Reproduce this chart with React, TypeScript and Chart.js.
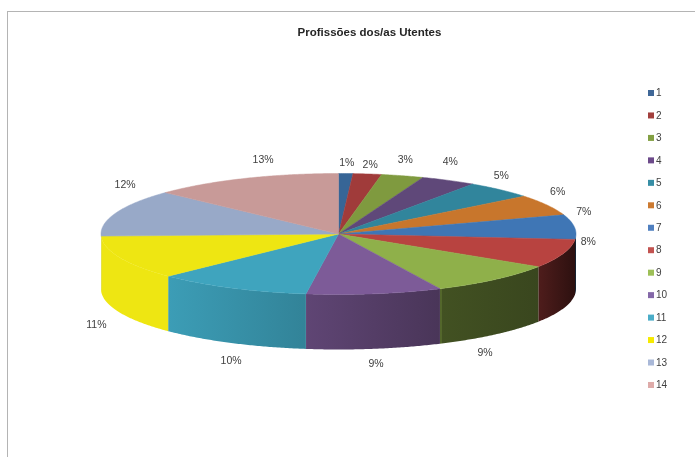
import React, { useEffect, useRef } from "react";
import { ArcElement, Chart, DoughnutController, registerables } from "chart.js";

const categories = ["1", "2", "3", "4", "5", "6", "7", "8", "9", "10", "11", "12", "13", "14"];
const shares = [1, 2, 3, 4, 5, 6, 7, 8, 9, 9, 10, 11, 12, 13];
const sliceColors = [
  "#376596", "#A03B3A", "#7F9A3F", "#5F4879", "#31859C", "#C8762C", "#3F76B5",
  "#B84340", "#8FB04A", "#7D5B98", "#3FA4BE", "#EEE612", "#98A9C8", "#C89A98",
];
const legendColors = [
  "#3F6797", "#A23F3D", "#83A044", "#6C4A8A", "#378EA5", "#CC7A31", "#5080C0",
  "#C25350", "#9DBF57", "#8468A8", "#4BADC8", "#F6EA00", "#A9B8D8", "#DEABA9",
];
const chartTitle = "Profissões dos/as Utentes";

// Offsets of the percentage labels from their anchor on the pie's rim.
const labelNudges: [number, number][] = [
  [1, -10], [2.8, -8.5], [2.7, -15.5], [1.6, -18.2], [1.1, -13.8], [10.6, -12.5], [9.4, -15],
  [25, -11.5], [-10.6, 18], [1, 14.5], [-0.5, 17.3], [-23.6, 11], [8.6, -27], [17.7, -18.5],
];

const FONT = '"Liberation Sans", Arial, sans-serif';
const STRETCH_X = 237.5 / 150;
const STRETCH_Y = 60.5 / 150;
const WALL_DEPTH = 55;
const SKEW_DEG = 3.5;
const TWIST_DEG = 1.5;
const DEG = Math.PI / 180;
// Lighting along the rim wall, left to right: [position, brightness].
const WALL_LIGHT: [number, number][] = [
  [0, 1], [0.14, 1], [0.141, 0.96], [0.433, 0.8], [0.433, 0.76], [0.718, 0.58], [0.718, 0.46], [0.925, 0.4],
  [0.925, 0.42], [1, 0.24],
];

// Clockwise angle from 12 o'clock, bent slightly to fake the camera perspective.
function bend(phi: number) {
  return phi - SKEW_DEG * DEG * (1 - Math.cos(phi)) - TWIST_DEG * DEG * Math.sin(phi);
}

function rimPoint(x: number, y: number, r: number, bent: number) {
  return {
    x: x + r * STRETCH_X * Math.sin(bent),
    y: y - r * STRETCH_Y * Math.cos(bent),
  };
}

function shade(hex: string, k: number) {
  const n = parseInt(hex.slice(1), 16);
  const c = [(n >> 16) & 255, (n >> 8) & 255, n & 255].map((v) => Math.round(v * k));
  return `rgb(${c[0]},${c[1]},${c[2]})`;
}

class Pie3DArc extends ArcElement {
  static id = "pie3dArc";

  draw(ctx: CanvasRenderingContext2D) {
    const { x, y, outerRadius, startAngle, endAngle } = (this as any).getProps([
      "x", "y", "outerRadius", "startAngle", "endAngle",
    ]);
    const color: string = (this as any).options.backgroundColor;
    const a = bend(startAngle + Math.PI / 2);
    const b = bend(endAngle + Math.PI / 2);
    const steps = Math.max(2, Math.ceil((b - a) / (0.5 * DEG)));

    // Front-facing part of the rim wall.
    const wa = Math.max(a, Math.PI / 2);
    const wb = Math.min(b, Math.PI * 1.5);
    if (wb > wa) {
      const left = x - outerRadius * STRETCH_X;
      const right = x + outerRadius * STRETCH_X;
      const grad = ctx.createLinearGradient(left, 0, right, 0);
      WALL_LIGHT.forEach(([pos, k]) => grad.addColorStop(pos, shade(color, k)));
      ctx.beginPath();
      for (let i = 0; i <= steps; i++) {
        const p = rimPoint(x, y, outerRadius, wa + ((wb - wa) * i) / steps);
        if (i === 0) ctx.moveTo(p.x, p.y);
        else ctx.lineTo(p.x, p.y);
      }
      for (let i = steps; i >= 0; i--) {
        const p = rimPoint(x, y, outerRadius, wa + ((wb - wa) * i) / steps);
        ctx.lineTo(p.x, p.y + WALL_DEPTH);
      }
      ctx.closePath();
      ctx.fillStyle = grad;
      ctx.fill();
    }

    // Top face of the slice.
    ctx.beginPath();
    ctx.moveTo(x, y);
    for (let i = 0; i <= steps; i++) {
      const p = rimPoint(x, y, outerRadius, a + ((b - a) * i) / steps);
      ctx.lineTo(p.x, p.y);
    }
    ctx.closePath();
    ctx.fillStyle = color;
    ctx.fill();
    ctx.strokeStyle = color;
    ctx.lineWidth = 0.5;
    ctx.stroke();
  }
}

class Pie3DController extends DoughnutController {
  static id = "pie3d";
  static defaults = { ...DoughnutController.defaults, dataElementType: "pie3dArc" };
}

Chart.register(...registerables, Pie3DArc, Pie3DController);

const decorations = {
  id: "decorations",
  afterDraw(chart: any) {
    const ctx: CanvasRenderingContext2D = chart.ctx;
    ctx.save();

    // Frame: only its top and left edges fall inside the canvas.
    ctx.fillStyle = "#b4b4b4";
    ctx.fillRect(7, 11, chart.width - 7, 1);
    ctx.fillRect(7, 11, 1, chart.height - 11);

    ctx.textBaseline = "middle";
    ctx.textAlign = "center";
    ctx.fillStyle = "#262626";
    ctx.font = `bold 11.5px ${FONT}`;
    ctx.fillText(chartTitle, 369.5, 32.5);

    // Percentage labels around the pie.
    ctx.font = `10.5px ${FONT}`;
    ctx.fillStyle = "#404040";
    const arcs = chart.getDatasetMeta(0).data;
    arcs.forEach((arc: any, i: number) => {
      const mid = bend((arc.startAngle + arc.endAngle) / 2 + Math.PI / 2);
      const p = rimPoint(arc.x, arc.y, arc.outerRadius, mid);
      const onWall = mid > Math.PI * 0.7 && mid < Math.PI * 1.45;
      ctx.fillText(
        `${chart.data.datasets[0].data[i]}%`,
        p.x + labelNudges[i][0],
        p.y + labelNudges[i][1] + (onWall ? 56 : 0),
      );
    });

    // Vertical legend on the right.
    ctx.textAlign = "left";
    ctx.font = `10px ${FONT}`;
    chart.data.labels.forEach((label: string, i: number) => {
      const y = 93 + i * 22.46;
      ctx.fillStyle = legendColors[i];
      ctx.fillRect(648, y - 3, 6, 6);
      ctx.fillStyle = "#404040";
      ctx.fillText(label, 656, y + 0.5);
    });
    ctx.restore();
  },
};

export default function App() {
  const ref = useRef<HTMLCanvasElement>(null);

  useEffect(() => {
    const chart = new Chart(ref.current as HTMLCanvasElement, {
      type: "pie3d" as any,
      data: {
        labels: categories,
        datasets: [{ data: shares, backgroundColor: sliceColors, borderWidth: 0 }],
      },
      options: {
        animation: false,
        responsive: false,
        events: [],
        cutout: 0,
        layout: { padding: { left: 188.5, right: 206.5, top: 84, bottom: 73 } },
        plugins: { legend: { display: false }, title: { display: false }, tooltip: { enabled: false } },
      } as any,
      plugins: [decorations],
    });
    return () => chart.destroy();
  }, []);

  return (
    <canvas
      ref={ref}
      width={695}
      height={457}
      style={{ position: "absolute", left: 0, top: 0, width: 695, height: 457, background: "#fff" }}
    />
  );
}
